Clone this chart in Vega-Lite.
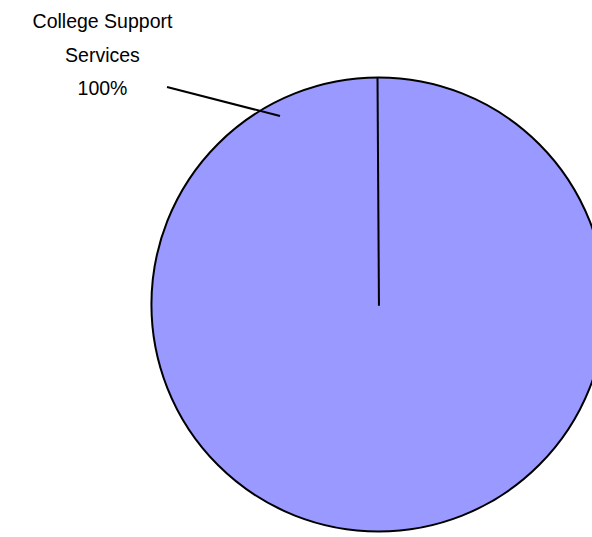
{
  "$schema": "https://vega.github.io/schema/vega-lite/v6.json",
  "width": 592,
  "height": 537,
  "autosize": "none",
  "padding": 0,
  "background": "white",
  "config": {"view": {"stroke": null}},
  "datasets": {
    "pie": [{"category": "College Support Services", "value": 100}],
    "rules": [
      {"name": "boundary", "x": 0.002, "y": -0.006, "x2": -0.0044, "y2": 1.0},
      {"name": "leader", "x": -0.9317, "y": 0.958, "x2": -0.4339, "y2": 0.8304}
    ],
    "labels": [
      {"text": "College Support", "x": -1.2159, "y": 1.2159},
      {"text": "Services", "x": -1.2159, "y": 1.0683},
      {"text": "100%", "x": -1.2159, "y": 0.9229}
    ]
  },
  "layer": [
    {
      "data": {"name": "pie"},
      "mark": {"type": "arc", "outerRadius": 227, "fill": "#9999FF", "stroke": "#000000", "strokeWidth": 2},
      "encoding": {
        "theta": {"field": "value", "type": "quantitative", "stack": true},
        "x": {"datum": 0, "type": "quantitative", "scale": {"domain": [-1.6674, 0.9405], "zero": false, "nice": false}, "axis": null},
        "y": {"datum": 0, "type": "quantitative", "scale": {"domain": [-1.0242, 1.3414], "zero": false, "nice": false}, "axis": null}
      }
    },
    {
      "data": {"name": "rules"},
      "mark": {"type": "rule", "color": "#000000", "strokeWidth": 2},
      "encoding": {
        "x": {"field": "x", "type": "quantitative"},
        "y": {"field": "y", "type": "quantitative"},
        "x2": {"field": "x2"},
        "y2": {"field": "y2"}
      }
    },
    {
      "data": {"name": "labels"},
      "mark": {"type": "text", "font": "Liberation Sans", "fontSize": 19.5, "align": "center", "baseline": "alphabetic", "color": "#000000"},
      "encoding": {
        "x": {"field": "x", "type": "quantitative"},
        "y": {"field": "y", "type": "quantitative"},
        "text": {"field": "text", "type": "nominal"}
      }
    }
  ]
}
